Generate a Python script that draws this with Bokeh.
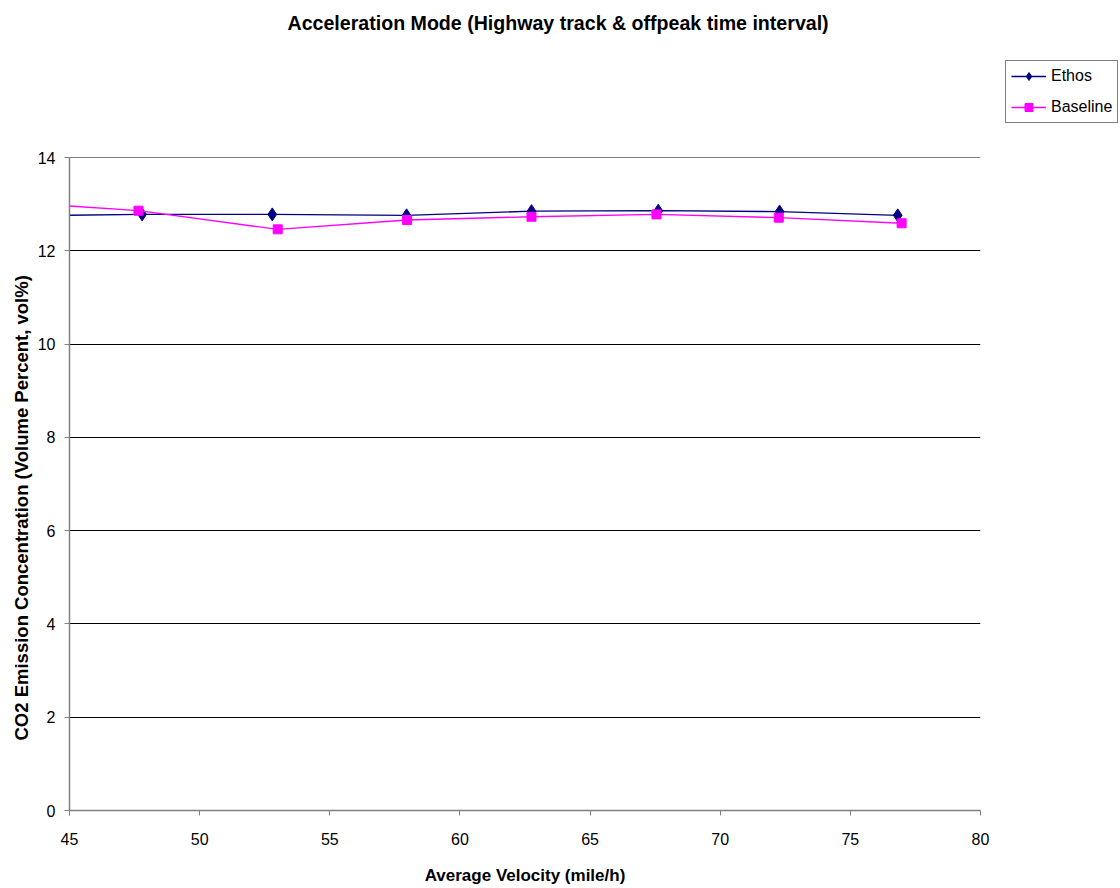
from bokeh.plotting import figure
from bokeh.models import Range1d, Legend, LegendItem, FixedTicker, Title, Span
from bokeh.embed import file_html
from bokeh.resources import INLINE

# Average velocity (mile/h) and CO2 concentration (vol%) for each run
ethos_velocity = [42.9, 47.79, 52.79, 57.95, 62.75, 67.62, 72.28, 76.82]
ethos_co2 = [12.75, 12.78, 12.78, 12.76, 12.85, 12.86, 12.84, 12.76]

baseline_velocity = [42.9, 47.65, 53.00, 57.97, 62.75, 67.55, 72.25, 76.97]
baseline_co2 = [13.04, 12.86, 12.46, 12.66, 12.73, 12.78, 12.71, 12.59]

x_ticks = [45, 50, 55, 60, 65, 70, 75, 80]
y_ticks = [0, 2, 4, 6, 8, 10, 12, 14]

FONT = "Liberation Sans"

p = figure(
    frame_width=911, frame_height=653,
    x_range=Range1d(45, 80), y_range=Range1d(0, 14),
    output_backend="svg", toolbar_location=None,
    min_border_left=69, min_border_right=140,
    min_border_top=157, min_border_bottom=78,
)
p.outline_line_color = None
p.background_fill_color = "white"
p.border_fill_color = "white"

# axes
for ax in (p.xaxis[0], p.yaxis[0]):
    ax.axis_line_color = "#808080"
    ax.axis_line_width = 1.5
    ax.major_tick_line_color = "#808080"
    ax.major_tick_out = 5
    ax.major_tick_in = 0
    ax.minor_tick_line_color = None
    ax.major_label_text_font = FONT
    ax.major_label_text_font_size = "16px"
    ax.major_label_text_color = "black"
p.xaxis[0].ticker = FixedTicker(ticks=x_ticks)
p.yaxis[0].ticker = FixedTicker(ticks=y_ticks)
p.xaxis[0].major_label_standoff = 17
p.yaxis[0].major_label_standoff = 9

p.xaxis[0].axis_label = "Average Velocity (mile/h)"
p.xaxis[0].axis_label_text_font = FONT
p.xaxis[0].axis_label_text_font_style = "bold"
p.xaxis[0].axis_label_text_font_size = "17px"
p.xaxis[0].axis_label_text_color = "black"
p.xaxis[0].axis_label_standoff = 18

p.xgrid.grid_line_color = None
p.ygrid.ticker = FixedTicker(ticks=y_ticks)
p.ygrid.grid_line_color = "black"
p.ygrid.grid_line_width = 1
p.add_layout(Span(location=y_ticks[-1], dimension="width",
                  line_color="black", line_width=1))

# series
e_line = p.line(ethos_velocity, ethos_co2, line_color="#000080", line_width=1.4)
e_mark = p.scatter(ethos_velocity, ethos_co2, marker="diamond", size=13,
                   fill_color="#000080", line_color="#000080")
b_line = p.line(baseline_velocity, baseline_co2, line_color="#FF00FF", line_width=1.4)
b_mark = p.scatter(baseline_velocity, baseline_co2, marker="square", size=9,
                   fill_color="#FF00FF", line_color="#FF00FF")

# legend in the right-hand panel, raised above the frame top
legend = Legend(
    items=[LegendItem(label="Ethos", renderers=[e_line, e_mark]),
           LegendItem(label="Baseline", renderers=[b_line, b_mark])],
    location=(25, 687),
    border_line_color="black", border_line_width=1,
    padding=5, margin=0, spacing=11,
    glyph_width=35, glyph_height=20, label_height=20, label_standoff=5,
    label_text_font=FONT, label_text_font_size="16px",
    label_text_color="black",
    background_fill_alpha=1,
)
p.add_layout(legend, "right")

# blank spacer row next to the frame, then the chart title at the top edge
p.add_layout(Title(text=" ", standoff=100, text_font=FONT, text_font_size="19.6px"),
             "above")
p.add_layout(Title(text="Acceleration Mode (Highway track & offpeak time interval)",
                   align="left", offset=218, standoff=0,
                   text_color="black",
                   text_font=FONT, text_font_style="bold", text_font_size="19.6px"),
             "above")

p.add_layout(Title(text="CO2 Emission Concentration (Volume Percent, vol%)",
                   align="left", offset=70, standoff=6,
                   text_color="black",
                   text_font=FONT, text_font_style="bold", text_font_size="18.5px"),
             "left")

open("out.html", "w").write(file_html(p, INLINE))
